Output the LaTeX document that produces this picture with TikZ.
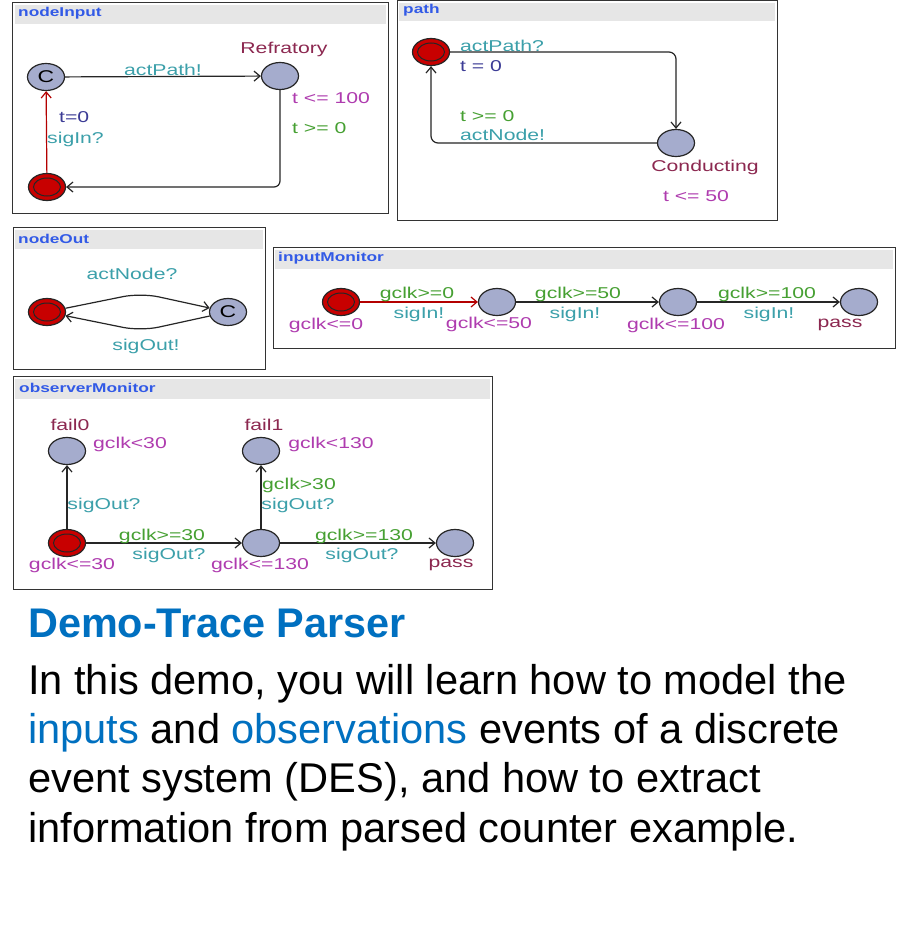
\documentclass[tikz,border=0pt]{standalone}
\usepackage{fontspec}
\setmainfont{Liberation Sans}
\newfontfamily\dg[FakeStretch=1.35]{Liberation Sans}
\usetikzlibrary{arrows.meta,shapes.geometric}
\definecolor{syncC}{RGB}{60,160,170}
\definecolor{nameC}{RGB}{140,40,80}
\definecolor{invC}{RGB}{175,60,175}
\definecolor{guardC}{RGB}{70,160,50}
\definecolor{assignC}{RGB}{60,60,150}
\definecolor{locC}{RGB}{165,172,205}
\definecolor{initC}{RGB}{200,0,0}
\definecolor{hdrC}{RGB}{230,230,230}
\definecolor{ttlC}{RGB}{50,90,230}
\definecolor{txtBlue}{RGB}{0,112,192}
\tikzset{
  loc/.style={ellipse, draw=black!85, line width=1.2pt, fill=locC, minimum width=37pt,
    minimum height=27pt, inner sep=0pt, font=\dg\fontsize{17}{18}\selectfont},
  initloc/.style={loc, fill=initC, path picture={\draw[black!85, line width=1pt]
    (path picture bounding box.center) ellipse [x radius=13.5pt, y radius=9pt];}},
  lbl/.style={font=\dg\fontsize{15.7}{17}\selectfont, inner sep=0pt},
  sync/.style={lbl, text=syncC},
  lname/.style={lbl, text=nameC},
  inv/.style={lbl, text=invC},
  guard/.style={lbl, text=guardC},
  assign/.style={lbl, text=assignC},
  trans/.style={draw=black!85, line width=1.2pt, -{Straight Barb[length=6pt,width=10pt]}},
  rtrans/.style={trans, draw=initC!90!black},
  panel/.style={draw=black!80, line width=1pt},
  hdr/.style={fill=hdrC},
  ptitle/.style={anchor=west, font=\dg\bfseries\fontsize{12.8}{14}\selectfont, text=ttlC, inner sep=0pt},
  bodytxt/.style={anchor=base west, inner sep=0pt, font=\fontsize{41.6}{49.5}\selectfont},
}
\begin{document}
\begin{tikzpicture}[x=1pt,y=-1pt]
\useasboundingbox (0,0) rectangle (897,942);
\fill[white] (0,0) rectangle (897,942);

% ---------- nodeInput ----------
\draw[panel] (12.5,2.5) rectangle (388,213.5);
\fill[hdr] (15,5) rectangle (386,24);
\node[ptitle] (t1) at (18,13.5) {nodeInput};
\node[loc] (niC) at (46,77) {C};
\node[loc] (niR) at (280,76) {};
\node[initloc] (niI) at (47,187) {};
\draw[trans] (niC) -- (niR);
\draw[trans, rounded corners=6pt] (niR.south) |- (niI.east);
\draw[rtrans] (niI) -- (niC);
\node[lname] (niRl) at (284,49) {Refratory};
\node[sync] (niap) at (163,70) {actPath!};
\node[inv, anchor=west] (niinv) at (292,98) {t <= 100};
\node[guard, anchor=west] (nig) at (292,128) {t >= 0};
\node[assign, anchor=west] (nia) at (59,117) {t=0};
\node[sync, anchor=west] (nis) at (47,139) {sigIn?};

% ---------- path ----------
\draw[panel] (397,1) rectangle (777,220);
\fill[hdr] (399,3) rectangle (775,21);
\node[ptitle] (t2) at (403,10) {path};
\node[initloc] (pI) at (431,52) {};
\node[loc] (pC) at (676,143) {};
\draw[trans, rounded corners=7pt] (pI.east) -| (pC.north);
\draw[trans, rounded corners=7pt] (pC.west) -| (pI.south);
\node[sync, anchor=west] (pap) at (460,46) {actPath?};
\node[assign, anchor=west] (pt) at (460,66) {t = 0};
\node[guard, anchor=west] (pg) at (460,116) {t >= 0};
\node[sync, anchor=west] (pan) at (460,135) {actNode!};
\node[lname] (pcl) at (705,167) {Conducting};
\node[inv] (pinv) at (696,196) {t <= 50};

% ---------- nodeOut ----------
\draw[panel] (13,227) rectangle (265,369);
\fill[hdr] (15,230) rectangle (263,249);
\node[ptitle] (t3) at (18,239) {nodeOut};
\node[initloc] (noI) at (47,312) {};
\node[loc] (noC) at (228,312) {C};
\coordinate (noTop) at (141,293);
\coordinate (noBot) at (141,331);
\draw[trans, rounded corners=18pt] (noI) -- (noTop) -- (noC);
\draw[trans, rounded corners=18pt] (noC) -- (noBot) -- (noI);
\node[sync] (noa) at (132,274) {actNode?};
\node[sync] (nos) at (146,346) {sigOut!};

% ---------- inputMonitor ----------
\draw[panel] (273,247) rectangle (895,348);
\fill[hdr] (275,250) rectangle (893,269);
\node[ptitle] (t4) at (278,258) {inputMonitor};
\node[initloc] (im0) at (341,302) {};
\node[loc] (im1) at (497,302) {};
\node[loc] (im2) at (678,302) {};
\node[loc] (im3) at (859,302) {};
\draw[rtrans] (im0) -- (im1);
\draw[trans] (im1) -- (im2);
\draw[trans] (im2) -- (im3);
\node[guard] (img1) at (417,294) {gclk>=0};
\node[sync] (ims1) at (419,314) {sigIn!};
\node[inv] (imi0) at (326,325) {gclk<=0};
\node[inv] (imi1) at (489,324) {gclk<=50};
\node[guard] (img2) at (578,294) {gclk>=50};
\node[sync] (ims2) at (575,314) {sigIn!};
\node[inv] (imi2) at (676,325) {gclk<=100};
\node[guard] (img3) at (767,294) {gclk>=100};
\node[sync] (ims3) at (769,314) {sigIn!};
\node[lname] (imp) at (840,325) {pass};

% ---------- observerMonitor ----------
\draw[panel] (13,376) rectangle (492,589);
\fill[hdr] (15,379) rectangle (490,399);
\node[ptitle] (t5) at (19,388) {observerMonitor};
\node[loc] (of0) at (67,451) {};
\node[loc] (of1) at (261,451) {};
\node[initloc] (oi) at (67,543) {};
\node[loc] (om) at (261,543) {};
\node[loc] (op) at (455,543) {};
\draw[trans] (oi) -- (of0);
\draw[trans] (oi) -- (om);
\draw[trans] (om) -- (of1);
\draw[trans] (om) -- (op);
\node[lname] (of0l) at (70,425) {fail0};
\node[inv] (of0i) at (130,444) {gclk<30};
\node[lname] (of1l) at (264,425) {fail1};
\node[inv] (of1i) at (331,444) {gclk<130};
\node[sync] (os0) at (104,505) {sigOut?};
\node[guard] (og1) at (299,485) {gclk>30};
\node[sync] (os1) at (298,505) {sigOut?};
\node[guard] (og2) at (162,536) {gclk>=30};
\node[sync] (os2) at (169,555) {sigOut?};
\node[inv] (oii) at (72,565) {gclk<=30};
\node[inv] (omi) at (260,565) {gclk<=130};
\node[guard] (og3) at (364,536) {gclk>=130};
\node[sync] (os3) at (362,555) {sigOut?};
\node[lname] (opl) at (451,565) {pass};

% ---------- text ----------
\node[bodytxt, font=\bfseries\fontsize{41.4}{49.5}\selectfont, text=txtBlue] (ttl) at (28,637) {Demo-Trace Parser};
\node[bodytxt] (l1) at (28,694) {In this demo, you will learn how to model the};
\node[bodytxt] (l2) at (28,743) {{\color{txtBlue}inputs} and {\color{txtBlue}observations} events of a discrete};
\node[bodytxt] (l3) at (28,792) {event system (DES), and how to extract};
\node[bodytxt] (l4) at (28,842) {information from parsed counter example.};
\end{tikzpicture}
\end{document}
